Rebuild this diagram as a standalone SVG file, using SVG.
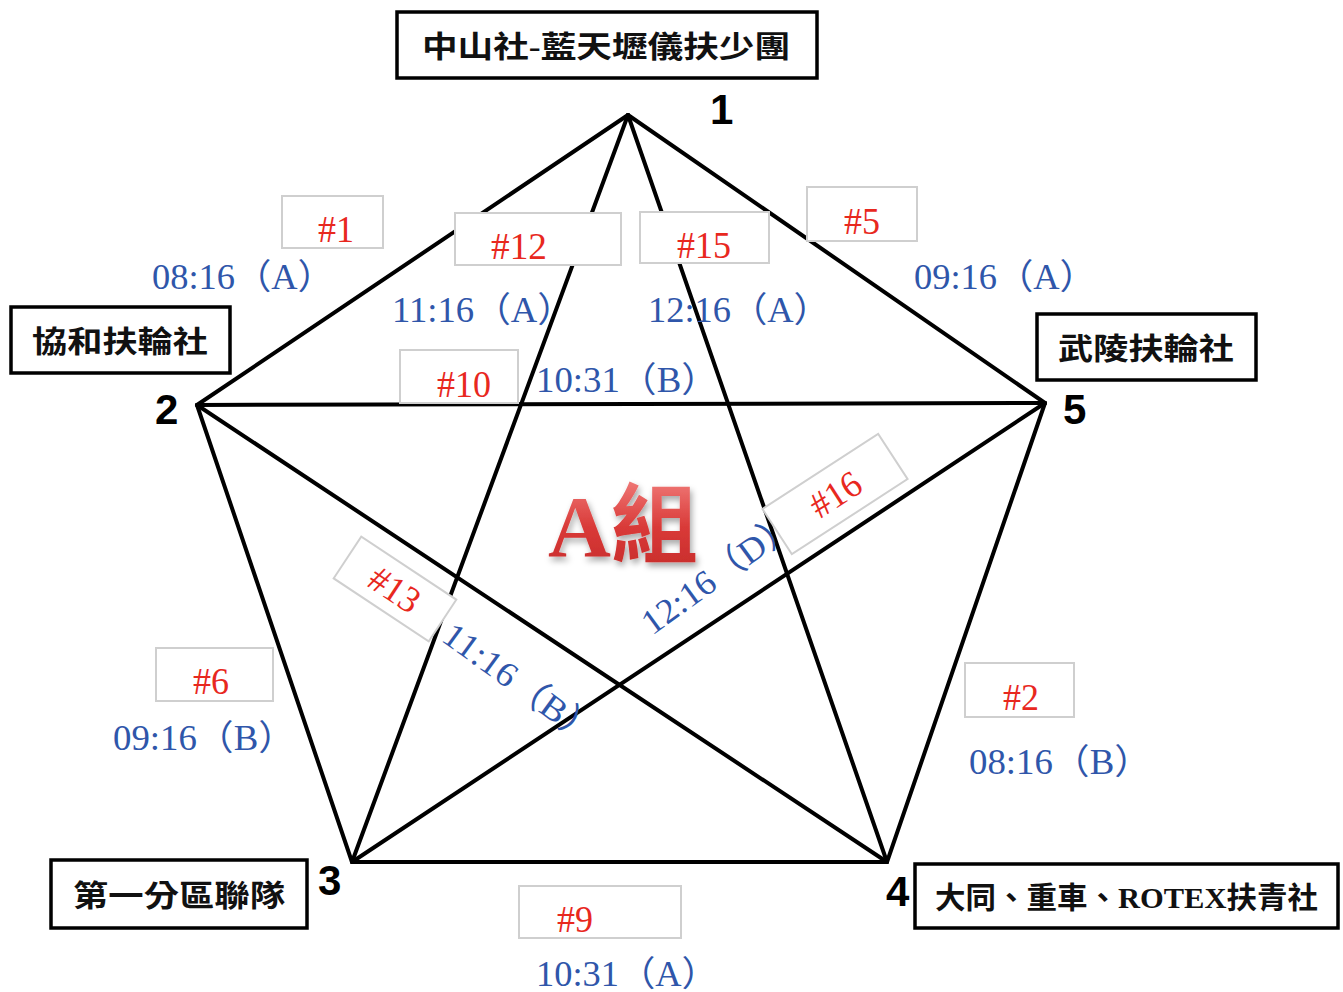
<svg xmlns="http://www.w3.org/2000/svg" width="1343" height="992" viewBox="0 0 1343 992">
<defs>
<style>
.edge{stroke:#000;stroke-width:4;fill:none;stroke-linecap:round}
.nbox{fill:#fff;stroke:#000;stroke-width:3.5}
.ntext{font-family:"Liberation Serif","Noto Sans CJK TC",serif;font-weight:bold;font-size:30px;fill:#111}
.num{font-family:"Liberation Sans","DejaVu Sans",sans-serif;font-weight:bold;font-size:42px;fill:#000}
.lbox{fill:#fff;stroke:#cfcfcf;stroke-width:2}
.ltext{font-family:"Liberation Serif","Noto Sans CJK TC",serif;font-size:37px;fill:#e8281e;text-anchor:middle}
.time{font-family:"Liberation Serif","Noto Sans CJK TC",serif;font-size:35px;fill:#2f56aa}
.big{font-family:"Liberation Serif","Noto Sans CJK TC",serif;font-weight:bold;font-size:86px;fill:url(#redg)}
</style>
<linearGradient id="redg" x1="0" y1="0" x2="0" y2="1">
<stop offset="0" stop-color="#f07a78"/>
<stop offset="0.5" stop-color="#d93a38"/>
<stop offset="1" stop-color="#c62b2a"/>
</linearGradient>
<filter id="sh" x="-20%" y="-20%" width="140%" height="150%">
<feDropShadow dx="2" dy="4" stdDeviation="3" flood-color="#000" flood-opacity="0.35"/>
</filter>
</defs>
<rect width="1343" height="992" fill="#fff"/>
<g id="connectors">
<line class="edge" x1="628" y1="115" x2="197" y2="405"/>
<line class="edge" x1="628" y1="115" x2="352" y2="862"/>
<line class="edge" x1="628" y1="115" x2="887" y2="862"/>
<line class="edge" x1="628" y1="115" x2="1045" y2="403"/>
<line class="edge" x1="197" y1="405" x2="1045" y2="403"/>
<line class="edge" x1="197" y1="405" x2="352" y2="862"/>
<line class="edge" x1="197" y1="405" x2="887" y2="862"/>
<line class="edge" x1="352" y1="862" x2="1045" y2="403"/>
<line class="edge" x1="352" y1="862" x2="887" y2="862"/>
<line class="edge" x1="887" y1="862" x2="1045" y2="403"/>
</g>
<g id="title">
<text class="big" x="548" y="556" filter="url(#sh)" textLength="150" lengthAdjust="spacingAndGlyphs">A組</text>
</g>
<g id="match-labels">
<g id="m1"><rect class="lbox" x="282" y="196" width="101" height="52"/><text class="ltext" x="336" y="242" textLength="36" lengthAdjust="spacingAndGlyphs">#1</text>
<text class="time" x="152" y="289" textLength="182" lengthAdjust="spacingAndGlyphs">08:16（A）</text></g>
<g id="m12"><rect class="lbox" x="455" y="213" width="166" height="52"/><text class="ltext" x="519" y="259" textLength="56" lengthAdjust="spacingAndGlyphs">#12</text>
<text class="time" x="392" y="322" textLength="182" lengthAdjust="spacingAndGlyphs">11:16（A）</text></g>
<g id="m15"><rect class="lbox" x="640" y="212" width="129" height="51"/><text class="ltext" x="704" y="258" textLength="54" lengthAdjust="spacingAndGlyphs">#15</text>
<text class="time" x="648" y="322" textLength="182" lengthAdjust="spacingAndGlyphs">12:16（A）</text></g>
<g id="m5"><rect class="lbox" x="807" y="187" width="110" height="54"/><text class="ltext" x="862" y="234" textLength="36" lengthAdjust="spacingAndGlyphs">#5</text>
<text class="time" x="914" y="289" textLength="182" lengthAdjust="spacingAndGlyphs">09:16（A）</text></g>
<g id="m10"><rect class="lbox" x="400" y="350" width="118" height="53"/><text class="ltext" x="464" y="397" textLength="54" lengthAdjust="spacingAndGlyphs">#10</text>
<text class="time" x="536" y="392" textLength="182" lengthAdjust="spacingAndGlyphs">10:31（B）</text></g>
<g id="m6"><rect class="lbox" x="156" y="648" width="117" height="53"/><text class="ltext" x="211" y="694" textLength="36" lengthAdjust="spacingAndGlyphs">#6</text>
<text class="time" x="113" y="750" textLength="182" lengthAdjust="spacingAndGlyphs">09:16（B）</text></g>
<g id="m2"><rect class="lbox" x="965" y="663" width="109" height="54"/><text class="ltext" x="1021" y="710" textLength="36" lengthAdjust="spacingAndGlyphs">#2</text>
<text class="time" x="969" y="774" textLength="182" lengthAdjust="spacingAndGlyphs">08:16（B）</text></g>
<g id="m9"><rect class="lbox" x="519" y="886" width="162" height="52"/><text class="ltext" x="575" y="932" textLength="36" lengthAdjust="spacingAndGlyphs">#9</text>
<text class="time" x="536" y="986" textLength="182" lengthAdjust="spacingAndGlyphs">10:31（A）</text></g>
<g id="m13"><g transform="translate(395,589) rotate(33.5)"><rect class="lbox" x="-57" y="-25" width="114" height="50"/><text class="ltext" x="0" y="13" textLength="54" lengthAdjust="spacingAndGlyphs">#13</text></g>
<text class="time" transform="translate(440,640) rotate(36)" x="0" y="0" textLength="182" lengthAdjust="spacingAndGlyphs">11:16（B）</text></g>
<g id="m16"><g transform="translate(835,494) rotate(-33)"><rect class="lbox" x="-69" y="-27" width="138" height="54"/><text class="ltext" x="0" y="13" textLength="54" lengthAdjust="spacingAndGlyphs">#16</text></g>
<text class="time" transform="translate(652,636) rotate(-36)" x="0" y="0" textLength="182" lengthAdjust="spacingAndGlyphs">12:16（D）</text></g>
</g>
<g id="node1"><rect class="nbox" x="397" y="12" width="420" height="66"/><text class="ntext" x="422" y="57" textLength="368" lengthAdjust="spacingAndGlyphs">中山社-藍天壢儀扶少團</text><text class="num" x="710" y="124">1</text></g>
<g id="node2"><rect class="nbox" x="11" y="307" width="219" height="66"/><text class="ntext" x="32" y="352" textLength="176" lengthAdjust="spacingAndGlyphs">協和扶輪社</text><text class="num" x="155" y="424">2</text></g>
<g id="node5"><rect class="nbox" x="1037" y="314" width="219" height="66"/><text class="ntext" x="1058" y="359" textLength="176" lengthAdjust="spacingAndGlyphs">武陵扶輪社</text><text class="num" x="1063" y="424">5</text></g>
<g id="node3"><rect class="nbox" x="51" y="860" width="256" height="68"/><text class="ntext" x="73" y="906" textLength="212" lengthAdjust="spacingAndGlyphs">第一分區聯隊</text><text class="num" x="318" y="895">3</text></g>
<g id="node4"><rect class="nbox" x="915" y="864" width="423" height="64"/><text class="ntext" x="935" y="908" textLength="383" lengthAdjust="spacingAndGlyphs">大同、重車、ROTEX扶青社</text><text class="num" x="886" y="906">4</text></g>
</svg>
